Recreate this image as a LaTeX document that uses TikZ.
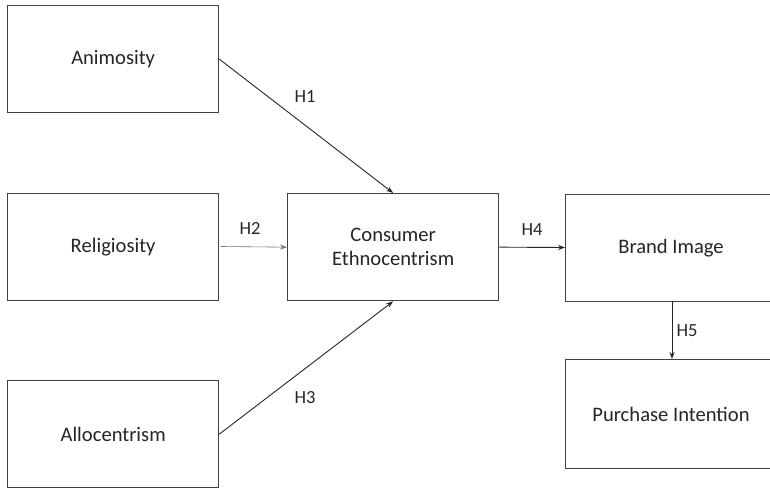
\documentclass[tikz,border=0pt]{standalone}
\usepackage{fontspec}
\setmainfont{Carlito}
\usetikzlibrary{arrows.meta}
\definecolor{boxline}{HTML}{404040}
\definecolor{txt}{HTML}{262626}
\begin{document}
\begin{tikzpicture}[x=1pt,y=-1pt,
  box/.style={draw=boxline,line width=1.3pt,fill=white,minimum width=211pt,minimum height=107pt,inner sep=0pt,text=txt,font=\fontsize{20.6}{24}\selectfont,align=center,anchor=north west},
  conn/.style={draw=black!85,line width=0.9pt,-{Stealth[length=7pt,width=5pt]}},
  lab/.style={text=txt,font=\fontsize{18.5}{22}\selectfont}]
\useasboundingbox (0,0) rectangle (770,489);
\begin{scope}
\clip (0,0) rectangle (770,489);
\node[box] (ani) at (7,5) {Animosity};
\node[box] (rel) at (7,193) {Religiosity};
\node[box] (allo) at (7,380) {Allocentrism};
\node[box] (ce) at (287,193) {Consumer\\Ethnocentrism};
\node[box,minimum width=240pt,minimum height=107pt] (bi) at (565,194) {};
\node[box,minimum width=240pt,minimum height=109pt] (pi) at (565,359) {};
\end{scope}
\node[text=txt,font=\fontsize{20.6}{24}\selectfont] (bit) at (671,248) {Brand Image};
\node[text=txt,font=\fontsize{20.6}{24}\selectfont] (pit) at (671,414) {Purchase Intention};
\coordinate (relout) at (221,246.5);
\coordinate (biin) at (565,247.5);
\coordinate (bibot) at (672,301);
\coordinate (pitop) at (672,359);
\draw[conn] (ani.east) -- (ce.north);
\draw[conn,draw=black!55,line width=0.6pt] (relout) -- (ce.west);
\draw[conn] (allo.east) -- (ce.south);
\draw[conn] (ce.east) -- (biin);
\draw[conn] (bibot) -- (pitop);
\node[lab] (h1) at (305,97) {H1};
\node[lab] (h2) at (250,228) {H2};
\node[lab] (h3) at (305,398) {H3};
\node[lab] (h4) at (532,230) {H4};
\node[lab] (h5) at (687,331) {H5};
\end{tikzpicture}
\end{document}
